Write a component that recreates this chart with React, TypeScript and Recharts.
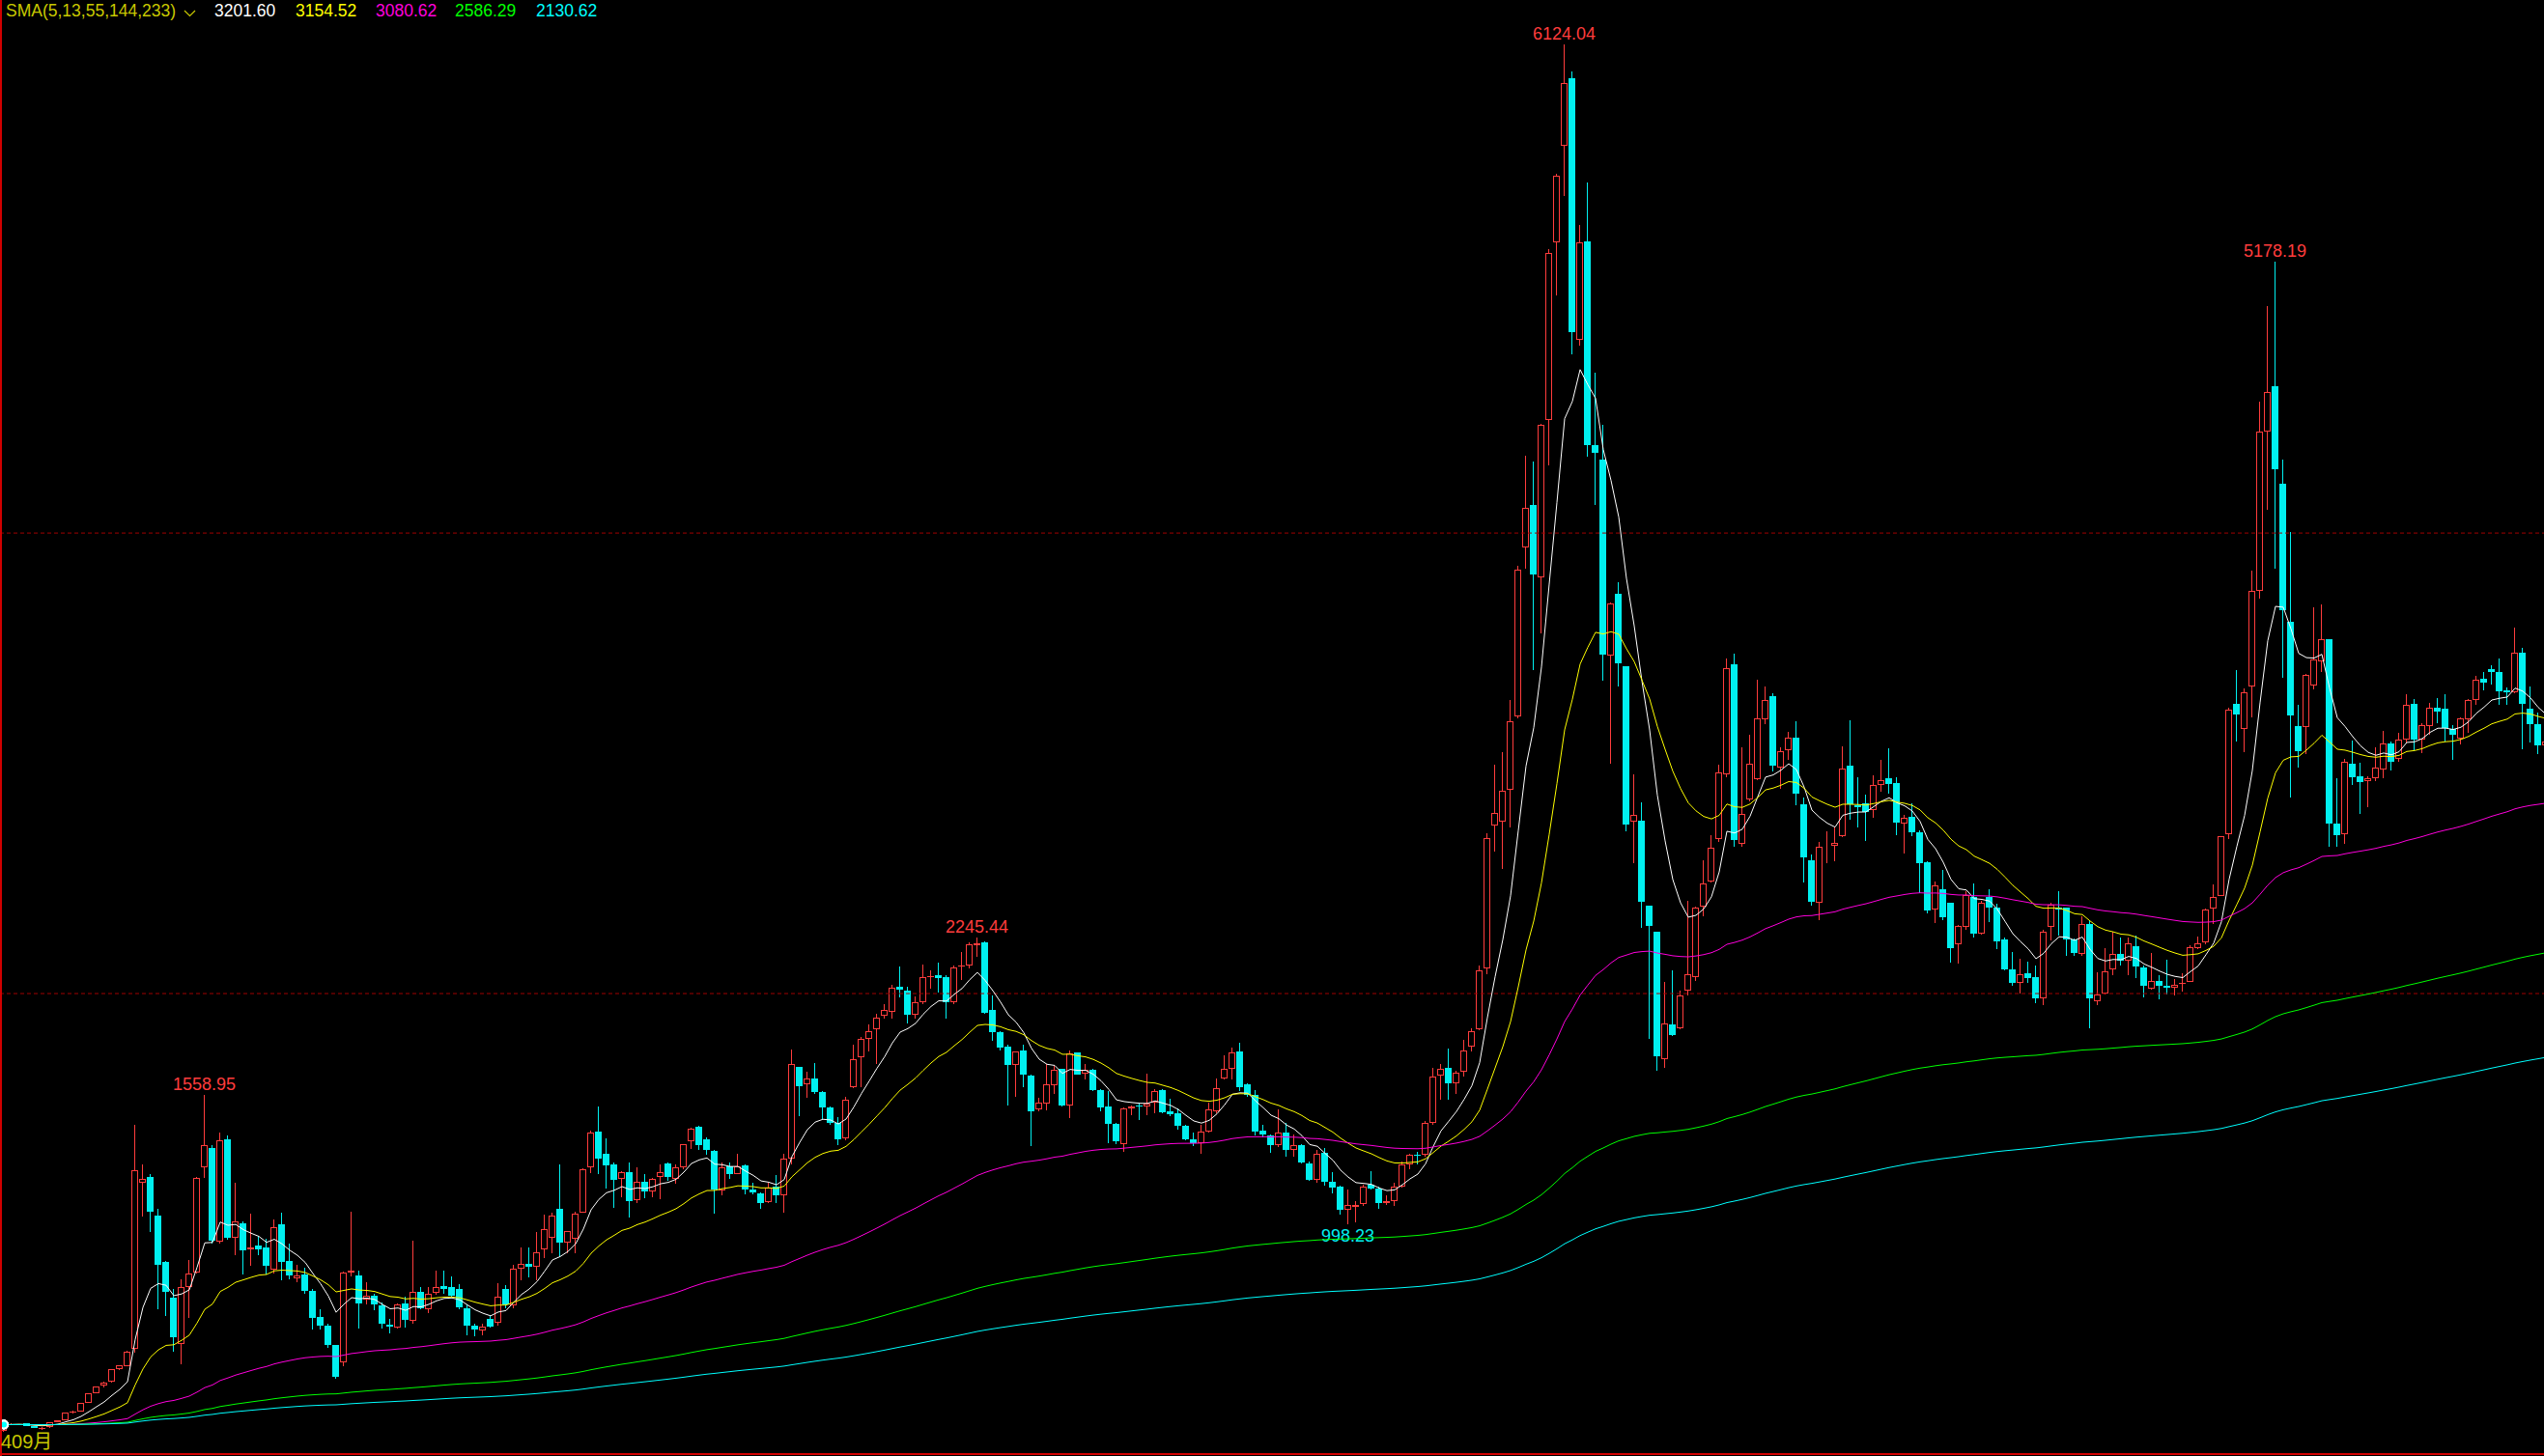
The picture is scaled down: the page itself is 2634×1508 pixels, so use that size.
import React from "react";
import { ComposedChart, Bar, Line, XAxis, YAxis, ReferenceLine } from "recharts";

// Shanghai Composite, monthly bars, Dec 1990 .. May 2018
const START_YEAR = 1990;
const START_MONTH = 12;

const OPEN = [
  100,
  128, 130, 133, 121, 110, 119, 139, 145, 181, 186, 223, 265,
  296, 316, 370, 383, 458, 1177, 1204, 1036, 833, 680, 480, 725,
  790, 1247, 1330, 921, 1368, 939, 1003, 890, 904, 898, 802, 998,
  840, 764, 778, 710, 597, 559, 474, 400, 789, 774, 669, 689,
  646, 563, 551, 655, 580, 706, 627, 701, 731, 727, 718, 634,
  558, 537, 588, 572, 718, 644, 806, 827, 812, 890, 938, 1063,
  917, 936, 1047, 1247, 1401, 1305, 1259, 1193, 1225, 1104, 1184, 1140,
  1205, 1263, 1197, 1247, 1357, 1423, 1368, 1318, 1146, 1251, 1218, 1252,
  1151, 1133, 1093, 1163, 1124, 1284, 1683, 1608, 1632, 1571, 1505, 1438,
  1371, 1595, 1722, 1801, 1847, 1903, 1920, 2031, 2014, 1910, 1962, 2070,
  2081, 2073, 1962, 2117, 2120, 2211, 2224, 1930, 1832, 1770, 1690, 1752,
  1644, 1496, 1521, 1601, 1672, 1512, 1743, 1651, 1668, 1581, 1510, 1435,
  1347, 1500, 1514, 1511, 1525, 1581, 1489, 1482, 1426, 1368, 1351, 1399,
  1490, 1630, 1675, 1749, 1605, 1558, 1403, 1385, 1340, 1396, 1319, 1343,
  1263, 1189, 1309, 1184, 1163, 1060, 1074, 1084, 1168, 1155, 1092, 1099,
  1163, 1258, 1299, 1300, 1440, 1645, 1676, 1612, 1659, 1768, 1844, 2108,
  2731, 2746, 2885, 3203, 3938, 4124, 3806, 4491, 5261, 5683, 5976, 4841,
  5267, 4383, 4320, 3467, 3738, 3423, 2746, 2752, 2380, 2268, 1717, 1864,
  1850, 2012, 2070, 2379, 2487, 2673, 2952, 3429, 2650, 2843, 2933, 3189,
  3293, 2980, 3057, 3112, 2824, 2580, 2393, 2636, 2640, 2682, 2990, 2816,
  2826, 2796, 2905, 2936, 2915, 2738, 2769, 2701, 2570, 2363, 2454, 2395,
  2213, 2290, 2419, 2259, 2419, 2375, 2234, 2105, 2045, 2087, 2073, 1978,
  2288, 2375, 2372, 2234, 2171, 2304, 1965, 2000, 2104, 2174, 2142, 2206,
  2115, 2021, 2056, 2035, 2024, 2041, 2052, 2197, 2221, 2368, 2425, 2692,
  3258, 3148, 3332, 3750, 4441, 4637, 4216, 3613, 3162, 3158, 3336, 3444,
  3538, 2737, 2692, 2999, 2943, 2921, 2936, 2973, 3085, 3020, 3102, 3257,
  3104, 3160, 3242, 3239, 3149, 3108, 3192, 3276, 3366, 3407, 3398, 3317,
  3309, 3482, 3238, 3168, 3078,
];

const HIGH = [
  128,
  135, 135, 135, 122, 116, 139, 148, 181, 188, 224, 266, 295,
  313, 370, 386, 449, 1430, 1256, 1217, 1063, 837, 718, 760, 842,
  1205, 1558.95, 1343, 1397, 1384, 1179, 1012, 1044, 949, 936, 1020, 1049,
  914, 823, 810, 718, 627, 564, 474, 791, 1053, 798, 747, 696,
  659, 585, 655, 684, 926, 727, 727, 795, 798, 770, 739, 648,
  564, 564, 601, 742, 732, 823, 898, 898, 963, 1041, 1047, 1258,
  970, 1054, 1242, 1403, 1510, 1372, 1267, 1230, 1268, 1246, 1217, 1200,
  1256, 1268, 1256, 1347, 1417, 1427, 1376, 1319, 1267, 1267, 1305, 1256,
  1179, 1137, 1177, 1213, 1305, 1756, 1683, 1662, 1699, 1575, 1511, 1465,
  1553, 1776, 1813, 1864, 1913, 1955, 2039, 2119, 2029, 1986, 2127, 2102,
  2134, 2081, 2123, 2182, 2221, 2245.44, 2228, 1990, 1836, 1776, 1748, 1780,
  1647, 1547, 1693, 1687, 1675, 1752, 1745, 1696, 1675, 1584, 1577, 1437,
  1507, 1514, 1528, 1654, 1584, 1584, 1542, 1500, 1430, 1396, 1430, 1528,
  1633, 1731, 1766, 1787, 1612, 1582, 1430, 1389, 1497, 1437, 1389, 1347,
  1270, 1319, 1329, 1226, 1165, 1151, 1099, 1168, 1228, 1161, 1123, 1179,
  1270, 1304, 1311, 1445, 1678, 1696, 1760, 1664, 1797, 1850, 2120, 2698,
  2995, 3050, 3275, 3857, 4335, 4312, 4474, 5232, 5561, 6124.04, 6005, 5336,
  5522, 4695, 4472, 3700, 3786, 3423, 2952, 2829, 2380, 2268, 2051, 2100,
  2012, 2402, 2379, 2579, 2688, 2996, 3454, 3478, 3068, 3123, 3361, 3332,
  3306, 3069, 3135, 3181, 2850, 2605, 2660, 2703, 2724, 3073, 3186, 2940,
  2866, 2946, 3017, 3067, 2940, 2776, 2827, 2707, 2573, 2486, 2536, 2396,
  2297, 2444, 2478, 2404, 2453, 2390, 2242, 2181, 2150, 2138, 2122, 2276,
  2394, 2444, 2375, 2241, 2334, 2315, 2092, 2198, 2270, 2243, 2243, 2252,
  2122, 2177, 2081, 2146, 2061, 2088, 2210, 2248, 2370, 2476, 2685, 3240,
  3406, 3324, 3835, 4572, 4986, 5178.19, 4318, 4006, 3256, 3388, 3678, 3688,
  3538, 2934, 3018, 3097, 3004, 2945, 3070, 3140, 3096, 3134, 3301, 3280,
  3174, 3264, 3285, 3298, 3164, 3201, 3280, 3379, 3398, 3426, 3454, 3328,
  3590, 3500, 3335, 3219, 3141,
];

const LOW = [
  96,
  127, 128, 120, 113, 105, 115, 137, 145, 178, 185, 222, 264,
  290, 312, 365, 380, 440, 1033, 963, 627, 600, 446, 392, 592,
  785, 1200, 915, 915, 930, 862, 778, 816, 865, 781, 785, 753,
  760, 747, 698, 539, 539, 460, 326, 383, 770, 546, 648, 626,
  546, 525, 544, 551, 564, 627, 613, 690, 697, 685, 630, 516,
  513, 517, 551, 559, 634, 634, 753, 768, 753, 852, 873, 855,
  873, 873, 1047, 1221, 1214, 1154, 1068, 1117, 1026, 1089, 1112, 1117,
  1109, 1188, 1176, 1235, 1326, 1319, 1298, 1045, 1125, 1193, 1214, 1126,
  1126, 1065, 1089, 1089, 1047, 1258, 1469, 1546, 1564, 1455, 1431, 1340,
  1364, 1589, 1595, 1748, 1696, 1892, 1892, 1983, 1871, 1892, 1955, 2022,
  2004, 1892, 1955, 2060, 2109, 2159, 1913, 1794, 1752, 1515, 1550, 1592,
  1339, 1487, 1494, 1564, 1511, 1460, 1647, 1626, 1577, 1490, 1351, 1347,
  1312, 1472, 1451, 1472, 1479, 1482, 1468, 1410, 1361, 1337, 1305, 1396,
  1479, 1625, 1626, 1577, 1550, 1382, 1375, 1309, 1333, 1291, 1291, 1263,
  1186, 1179, 1165, 1134, 1039, 998.23, 1005, 1077, 1151, 1067, 1081, 1077,
  1158, 1235, 1258, 1293, 1430, 1540, 1541, 1563, 1640, 1750, 1840, 2085,
  2617, 2541, 2723, 3196, 3844, 3404, 3563, 4292, 5033, 5462, 4778, 4812,
  4330, 4123, 3357, 2997, 3333, 2703, 2566, 2284, 1802, 1665, 1679, 1815,
  1844, 1991, 2055, 2335, 2481, 2660, 2940, 2639, 2639, 2836, 2927, 3170,
  2963, 2890, 3015, 2819, 2481, 2382, 2319, 2568, 2574, 2680, 2757, 2721,
  2661, 2763, 2877, 2870, 2689, 2610, 2682, 2437, 2350, 2307, 2320, 2134,
  2132, 2276, 2242, 2254, 2312, 2191, 2100, 2032, 2000, 2048, 1959, 1949,
  2232, 2251, 2165, 2162, 2164, 1849, 1951, 1996, 2080, 2122, 2080, 2067,
  1985, 2016, 1974, 1997, 1991, 2010, 2049, 2192, 2213, 2302, 2422, 2673,
  3095, 3049, 3200, 3716, 4099, 3847, 3373, 2850, 2983, 3039, 3322, 3397,
  2638, 2638, 2649, 2905, 2781, 2808, 2921, 2936, 2969, 3008, 3089, 3056,
  3044, 3126, 3173, 3093, 3016, 3080, 3132, 3253, 3317, 3340, 3254, 3253,
  3306, 3062, 3092, 3041, 3041,
];

const CLOSE = [
  128,
  130, 133, 121, 114, 115, 138, 146, 180, 186, 222, 264, 293,
  312, 368, 384, 446, 1234, 1193, 1051, 823, 703, 508, 725, 785,
  1201, 1343, 927, 1361, 938, 1012, 883, 898, 891, 816, 986, 833,
  774, 774, 710, 592, 559, 474, 334, 789, 795, 655, 689, 648,
  564, 555, 648, 584, 706, 634, 694, 727, 718, 686, 638, 558,
  541, 553, 555, 684, 648, 806, 827, 812, 877, 978, 1036, 917,
  967, 1045, 1235, 1397, 1284, 1252, 1189, 1225, 1100, 1184, 1140, 1193,
  1225, 1205, 1247, 1347, 1414, 1340, 1319, 1151, 1247, 1218, 1251, 1147,
  1135, 1091, 1158, 1125, 1284, 1692, 1599, 1632, 1571, 1504, 1438, 1365,
  1540, 1715, 1804, 1836, 1896, 1930, 2025, 2018, 1910, 1962, 2071, 2077,
  2067, 1962, 2113, 2123, 2214, 2218, 1918, 1834, 1764, 1689, 1748, 1647,
  1490, 1526, 1605, 1668, 1515, 1739, 1650, 1668, 1581, 1507, 1435, 1357,
  1500, 1511, 1510, 1521, 1577, 1486, 1476, 1424, 1368, 1351, 1400, 1497,
  1591, 1675, 1745, 1594, 1560, 1399, 1386, 1343, 1396, 1320, 1341, 1267,
  1191, 1306, 1182, 1159, 1060, 1081, 1083, 1162, 1155, 1092, 1099, 1161,
  1258, 1299, 1298, 1440, 1641, 1672, 1612, 1658, 1753, 1837, 2099, 2675,
  2786, 2881, 3184, 3841, 4109, 3821, 4471, 5218, 5552, 5954, 4871, 5262,
  4383, 4348, 3472, 3693, 3434, 2736, 2776, 2397, 2293, 1729, 1871, 1821,
  1991, 2082, 2373, 2477, 2632, 2959, 3412, 2667, 2780, 2998, 3195, 3277,
  2989, 3052, 3110, 2870, 2592, 2398, 2638, 2639, 2656, 2979, 2820, 2808,
  2790, 2905, 2928, 2911, 2743, 2762, 2701, 2567, 2359, 2468, 2333, 2199,
  2292, 2428, 2262, 2396, 2372, 2225, 2103, 2047, 2086, 2069, 1980, 2269,
  2385, 2365, 2237, 2178, 2301, 1979, 1994, 2098, 2174, 2141, 2220, 2116,
  2033, 2056, 2033, 2026, 2039, 2048, 2201, 2217, 2364, 2420, 2683, 3235,
  3210, 3310, 3748, 4441, 4612, 4277, 3664, 3207, 3053, 3384, 3450, 3538,
  2737, 2686, 3008, 2939, 2917, 2934, 2983, 3085, 3005, 3104, 3252, 3104,
  3164, 3242, 3224, 3155, 3123, 3196, 3276, 3364, 3351, 3398, 3313, 3309,
  3482, 3260, 3168, 3078, 3095,
];

// bars carrying the high / low price labels
const HIGH_MARKS = [26, 126, 202, 294];
const LOW_MARKS = [174];

const SMA_PERIODS = [5, 13, 55, 144, 233];
const SMA_COLORS = ["#ffffff", "#ffff00", "#ff00dc", "#00ff00", "#00ffff"];
const SMA_LEGEND = ["3201.60", "3154.52", "3080.62", "2586.29", "2130.62"];
const SMA_LEGEND_X = [222, 306, 389, 471, 555];

const GRID_LEVELS = [2000, 4000];

const UP = "#ff3c3c";
const DOWN = "#00f0f0";
const BAR_STEP = 8;
const PLOT_H = 1506;
const Y_MAX = 6315;

// tongdaxin style SMA(X,N,1): Y = (X + (N-1)*Y') / N
function tdxSma(values: number[], n: number) {
  const out: number[] = [];
  let prev = values[0];
  values.forEach((v, i) => {
    prev = i === 0 ? v : (v + (n - 1) * prev) / n;
    out.push(prev);
  });
  return out;
}

const smas = SMA_PERIODS.map((n) => tdxSma(CLOSE, n));

const data = OPEN.map((open, i) => {
  const mIdx = START_MONTH - 1 + i;
  const row: Record<string, any> = {
    i,
    m: `${START_YEAR + Math.floor(mIdx / 12)}-${String((mIdx % 12) + 1).padStart(2, "0")}`,
    open,
    high: HIGH[i],
    low: LOW[i],
    close: CLOSE[i],
    range: [LOW[i], HIGH[i]],
  };
  SMA_PERIODS.forEach((n, k) => {
    row[`sma${n}`] = smas[k][i];
  });
  return row;
});

function Candle(props: any) {
  const { x, y, width, height, payload } = props;
  if (!payload) return null;
  const { open, close, high, low, i } = payload;
  const cx = Math.floor(x + width / 2);
  const span = high - low || 1;
  const py = (v: number) => y + ((high - v) / span) * height;
  const up = close >= open;
  const top = py(Math.max(open, close));
  const bot = py(Math.min(open, close));
  const yHigh = py(high);
  const yLow = py(low);
  const bodyH = Math.max(1, bot - top);
  return (
    <g shapeRendering="crispEdges">
      {up ? (
        <>
          <rect x={cx} y={yHigh} width={1} height={Math.max(0, top - yHigh)} fill={UP} />
          <rect x={cx} y={bot} width={1} height={Math.max(0, yLow - bot)} fill={UP} />
          <rect x={cx - 2.5} y={top + 0.5} width={6} height={Math.max(0, bodyH - 1)} fill="none" stroke={UP} strokeWidth={1} />
        </>
      ) : (
        <>
          <rect x={cx} y={yHigh} width={1} height={Math.max(1, yLow - yHigh)} fill={DOWN} />
          <rect x={cx - 3} y={top} width={7} height={bodyH} fill={DOWN} />
        </>
      )}
      {HIGH_MARKS.includes(i) && (
        <text x={cx + 0.5} y={yHigh - 5} textAnchor="middle" fill={UP} fontSize={18} fontFamily="Liberation Sans, Arial, sans-serif">
          {high.toFixed(2)}
        </text>
      )}
      {LOW_MARKS.includes(i) && (
        <text x={cx + 0.5} y={yLow + 18} textAnchor="middle" fill={DOWN} fontSize={18} fontFamily="Liberation Sans, Arial, sans-serif">
          {low.toFixed(2)}
        </text>
      )}
    </g>
  );
}

export default function App() {
  const chartW = data.length * BAR_STEP;
  return (
    <div style={{ position: "fixed", left: 0, top: 0, width: 2634, height: 1508, overflow: "hidden", background: "#000" }}>
      <div style={{ position: "absolute", left: 0, top: 0 }}>
        <ComposedChart width={chartW} height={PLOT_H} data={data} margin={{ top: 0, right: 0, bottom: 0, left: 0 }}>
          <XAxis dataKey="m" hide />
          <YAxis hide domain={[0, Y_MAX]} type="number" allowDataOverflow />
          {GRID_LEVELS.map((v) => (
            <ReferenceLine key={v} y={v} stroke="#a00000" strokeDasharray="4 3" strokeWidth={1} />
          ))}
          {SMA_PERIODS.map((n, k) => (
            <Line
              key={n}
              dataKey={`sma${n}`}
              type="linear"
              stroke={SMA_COLORS[k]}
              strokeWidth={1}
              dot={false}
              isAnimationActive={false}
            />
          ))}
          <Bar dataKey="range" shape={<Candle />} isAnimationActive={false} />
        </ComposedChart>
      </div>
      <svg width={2634} height={1508} style={{ position: "absolute", left: 0, top: 0, pointerEvents: "none" }}>
        <rect x={0} y={0} width={2} height={1508} fill="#d00000" />
        <rect x={0} y={1505} width={2634} height={2} fill="#d00000" />
        <g fontFamily="Liberation Sans, Arial, sans-serif">
          <text x={6} y={17} fontSize={17.5} fill="#c8c800">
            SMA(5,13,55,144,233)
          </text>
          <polyline points="191,11 196.5,16.5 202,11" fill="none" stroke="#c8c800" strokeWidth={1.2} />
          {SMA_LEGEND.map((t, k) => (
            <text key={t} x={SMA_LEGEND_X[k]} y={17} fontSize={17.5} fill={SMA_COLORS[k]}>
              {t}
            </text>
          ))}
        </g>
        <text x={1} y={1500} fontSize={20} fill="#c8c800" fontFamily="Liberation Sans, 'Noto Sans CJK SC', sans-serif">
          409月
        </text>
      </svg>
    </div>
  );
}
